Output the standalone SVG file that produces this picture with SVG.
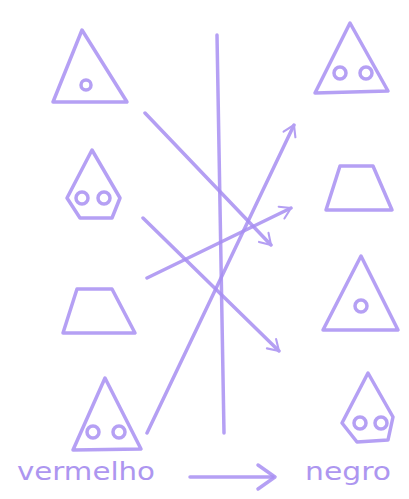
<svg xmlns="http://www.w3.org/2000/svg" width="409" height="499" viewBox="0 0 409 499">
<style>
.s{fill:none;stroke:#a88ff2;stroke-width:3.5;stroke-linecap:round;stroke-linejoin:round;opacity:0.85}
.t{fill:#ad96f0;font-family:"DejaVu Sans",sans-serif;font-size:25px}
</style>
<defs>
<marker id="ah" viewBox="0 0 12 12" refX="10" refY="6" markerWidth="4.5" markerHeight="4.5" orient="auto" markerUnits="strokeWidth">
<path d="M2,1 L10,6 L2,11" fill="none" stroke="#a88ff2" stroke-width="1.6" stroke-linecap="round" stroke-linejoin="round"/>
</marker>
</defs>
<rect width="409" height="499" fill="#ffffff"/>
<g id="connectors">
<line class="s" x1="217" y1="35" x2="224" y2="433"/>
<line class="s" x1="145" y1="113" x2="271" y2="245" marker-end="url(#ah)"/>
<line class="s" x1="147" y1="433" x2="294" y2="125" marker-end="url(#ah)"/>
<line class="s" x1="143" y1="218" x2="279" y2="351" marker-end="url(#ah)"/>
<line class="s" x1="147" y1="278" x2="291" y2="208" marker-end="url(#ah)"/>
</g>
<g id="left1"><path class="s" d="M82,30 L127,102 L53,102 Z"/><circle class="s" cx="86" cy="85" r="5"/></g>
<g id="left2"><path class="s" d="M92,150 L120,198 L112,218 L80,218 L67,198 Z"/><circle class="s" cx="82" cy="198" r="6"/><circle class="s" cx="104" cy="198" r="6"/></g>
<g id="left3"><path class="s" d="M77,289 L112,289 L135,333 L63,333 Z"/></g>
<g id="left4"><path class="s" d="M105,378 L141,449 L73,450 Z"/><circle class="s" cx="93" cy="432" r="6"/><circle class="s" cx="119" cy="432" r="6"/></g>
<g id="right1"><path class="s" d="M350,23 L388,91 L315,93 Z"/><circle class="s" cx="340" cy="73" r="6"/><circle class="s" cx="366" cy="73" r="6"/></g>
<g id="right2"><path class="s" d="M340,166 L373,166 L392,210 L326,210 Z"/></g>
<g id="right3"><path class="s" d="M361,256 L398,330 L323,330 Z"/><circle class="s" cx="361" cy="306" r="6"/></g>
<g id="right4"><path class="s" d="M368,373 L393,417 L388,440 L357,442 L342,423 Z"/><circle class="s" cx="360" cy="423" r="6"/><circle class="s" cx="381" cy="423" r="6"/></g>
<g id="legend">
<text class="t" x="17" y="480" textLength="138" lengthAdjust="spacingAndGlyphs">vermelho</text>
<line class="s" x1="190" y1="477" x2="273" y2="477"/>
<path class="s" d="M258,465 L275,477 L258,489"/>
<text class="t" x="305" y="480" textLength="86" lengthAdjust="spacingAndGlyphs">negro</text>
</g>
</svg>
